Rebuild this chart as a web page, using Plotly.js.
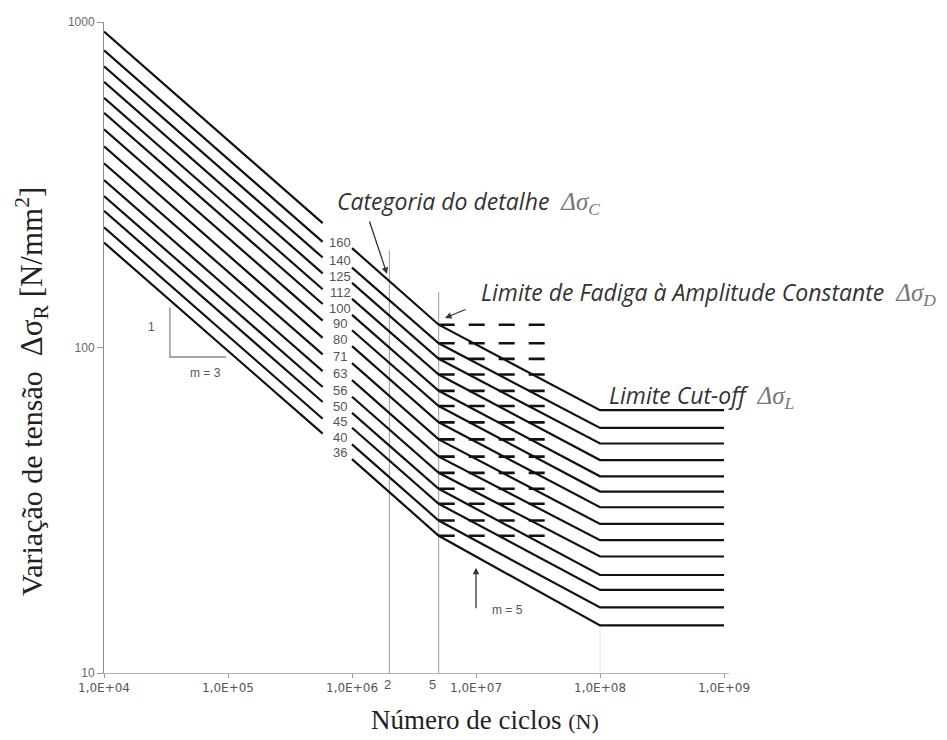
<!DOCTYPE html>
<html>
<head>
<meta charset="utf-8">
<script src="https://cdn.plot.ly/plotly-3.0.1.min.js"></script>
<style>
html,body{margin:0;padding:0;background:#fff;}
#chart{width:947px;height:740px;}
</style>
</head>
<body>
<div id="chart"></div>
<script>
// ---- Data ----
const categories     = [160, 140, 125, 112, 100, 90, 80, 71, 63, 56, 50, 45, 40, 36];
// stress range at N = 1e4 (start of m=3 branch)
const stressAt1e4    = [935, 819, 731, 655, 585, 526, 468, 415, 368, 327, 292, 263, 234, 210];
// stress where the left m=3 segment stops (label gap)
const stressGapStart = [241, 211, 189, 169, 151, 136, 121, 107, 95.2, 84.6, 75.6, 68.0, 60.4, 54.4];
// stress where the m=3 line resumes after the label gap
const stressGapEnd   = [202, 176, 158, 141, 126, 113, 101, 89.5, 79.4, 70.6, 63.0, 56.7, 50.4, 45.4];
// constant amplitude fatigue limit (N = 5e6)
const stressD        = [117.5, 103, 92.3, 82.6, 73.6, 66.1, 58.9, 52.2, 46.2, 41.2, 36.8, 33.1, 29.4, 26.4];
// cut-off limit (N = 1e8 .. 1e9)
const stressL        = [64.2, 56.6, 50.7, 45.1, 40.2, 36.1, 32.3, 28.7, 25.6, 22.8, 20.0, 18.0, 15.9, 14.0];

// cycle counts of the break points
const nStart = 1e4, nGapStart = 5.8e5, nGapEnd = 1e6, nKnee = 5e6, nDashEnd = 3.8e7, nCut = 1e8, nEnd = 1e9;

// reference verticals
const refCycles    = [2e6, 5e6];
const refTopStress = [199, 148];
const refLabels    = ['2', '5'];

// slope triangle (m = 3)
const triCycles = [3.4e4, 3.4e4, 9.63e4];
const triStress = [133, 93.5, 93.5];

// axis ticks
const xTickVals  = [1e4, 1e5, 1e6, 1e7, 1e8, 1e9];
const xTickText  = ['1,0E+04', '1,0E+05', '1,0E+06', '1,0E+07', '1,0E+08', '1,0E+09'];
const yTickVals  = [10, 100, 1000];
const yTickText  = ['10', '100', '1000'];

// ---- Traces ----
const traces = [];
const lineStyle = {color: '#111', width: 2.2};

// faint vertical at cut-off point
traces.push({x: [nCut, nCut], y: [10, stressL[stressL.length - 1]], mode: 'lines',
  line: {color: '#e6e6e6', width: 1}, hoverinfo: 'skip', showlegend: false});

refCycles.forEach((n, i) => {
  traces.push({x: [n, n], y: [10, refTopStress[i]], mode: 'lines',
    line: {color: '#9a9a9a', width: 1}, hoverinfo: 'skip', showlegend: false});
});

traces.push({x: triCycles, y: triStress, mode: 'lines',
  line: {color: '#8a8a8a', width: 1.3}, hoverinfo: 'skip', showlegend: false});

categories.forEach((c, i) => {
  traces.push({x: [nStart, nGapStart], y: [stressAt1e4[i], stressGapStart[i]],
    mode: 'lines', line: lineStyle, name: String(c), showlegend: false});
  traces.push({x: [nGapEnd, nKnee, nCut, nEnd], y: [stressGapEnd[i], stressD[i], stressL[i], stressL[i]],
    mode: 'lines', line: lineStyle, name: String(c), showlegend: false});
  traces.push({x: [nKnee, nDashEnd], y: [stressD[i], stressD[i]],
    mode: 'lines', line: {color: '#111', width: 2.6, dash: '16px,14px'}, name: String(c), showlegend: false});
});

// ---- Annotations ----
const L = Math.log10;
const annotations = [];

categories.forEach((c) => {
  annotations.push({x: 5.905, y: L(c) + 0.12, xref: 'x', yref: 'y', text: String(c),
    showarrow: false, font: {family: 'Liberation Sans, Arial, sans-serif', size: 13, color: '#555'}});
});

const refLabelX = [6.29, 6.645];
refLabels.forEach((t, i) => {
  annotations.push({x: refLabelX[i], y: -0.018, xref: 'x', yref: 'paper', yanchor: 'middle', text: t,
    showarrow: false, font: {family: 'Liberation Sans, Arial, sans-serif', size: 13, color: '#555'}});
});

const itFont = {family: 'Open Sans, sans-serif', size: 23, color: '#333', style: 'italic'};
const grk = (s) => '<span style="color:#777;font-family:Liberation Serif,serif;font-size:25px"><i>Δσ</i><sub><i>' + s + '</i></sub></span>';

annotations.push({x: 5.863, y: 2.447, xref: 'x', yref: 'y', xanchor: 'left', yanchor: 'middle', showarrow: false,
  text: 'Categoria do detalhe  ' + grk('C'), font: itFont});
annotations.push({x: 7.024, y: 2.167, xref: 'x', yref: 'y', xanchor: 'left', yanchor: 'middle', showarrow: false,
  text: 'Limite de Fadiga à Amplitude Constante  ' + grk('D'), font: itFont});
annotations.push({x: 8.06, y: 1.851, xref: 'x', yref: 'y', xanchor: 'left', yanchor: 'middle', showarrow: false,
  text: 'Limite Cut-off  ' + grk('L'), font: itFont});

// arrows
const arrowBase = {xref: 'x', yref: 'y', text: '', showarrow: true, arrowhead: 2, arrowsize: 1,
  arrowwidth: 1.3, arrowcolor: '#333', standoff: 0};
annotations.push(Object.assign({}, arrowBase, {x: 6.282, y: 2.226, ax: -18, ay: -54}));
annotations.push(Object.assign({}, arrowBase, {x: 6.750, y: 2.091, ax: 22, ay: -9}));
annotations.push(Object.assign({}, arrowBase, {x: 7.000, y: 1.323, ax: 0, ay: 42}));

const smallFont = {family: 'Liberation Sans, Arial, sans-serif', size: 12, color: '#555'};
annotations.push({x: 4.379, y: 2.063, xref: 'x', yref: 'y', text: '1', showarrow: false, font: smallFont});
annotations.push({x: 4.815, y: 1.922, xref: 'x', yref: 'y', text: 'm = 3', showarrow: false, font: smallFont});
annotations.push({x: 7.25, y: 1.194, xref: 'x', yref: 'y', text: 'm = 5', showarrow: false, font: smallFont});

// axis titles
annotations.push({x: -0.1152, y: 0.433, xref: 'paper', yref: 'paper', xanchor: 'center', yanchor: 'middle',
  textangle: -90, showarrow: false,
  text: 'Variação de tensão  <span style="font-size:31px">Δσ<sub>R</sub> [N/mm<sup>2</sup>]</span>',
  font: {family: 'Liberation Serif, Times New Roman, serif', size: 30, color: '#222'}});
annotations.push({x: 0.6096, y: -0.0722, xref: 'paper', yref: 'paper', xanchor: 'center', yanchor: 'middle',
  showarrow: false,
  text: 'Número de ciclos <span style="font-size:22px">(N)</span>',
  font: {family: 'Liberation Serif, Times New Roman, serif', size: 27, color: '#222'}});

const layout = {
  width: 947, height: 740,
  margin: {l: 104, r: 218, t: 22, b: 67, pad: 0},
  paper_bgcolor: '#fff', plot_bgcolor: '#fff',
  showlegend: false,
  xaxis: {type: 'log', range: [4, 9.04], showgrid: false, zeroline: false,
    showline: true, linecolor: '#b5b5b5', linewidth: 1,
    ticks: 'outside', ticklen: 4, tickcolor: '#999',
    tickmode: 'array', tickvals: xTickVals, ticktext: xTickText,
    tickfont: {family: 'DejaVu Sans, sans-serif', size: 12, color: '#555'}},
  yaxis: {type: 'log', range: [1, 3], showgrid: false, zeroline: false,
    showline: true, linecolor: '#8a8a8a', linewidth: 1,
    ticks: 'outside', ticklen: 6, tickcolor: '#999',
    tickmode: 'array', tickvals: yTickVals, ticktext: yTickText,
    tickfont: {family: 'Liberation Sans, Arial, sans-serif', size: 12, color: '#666'}},
  annotations: annotations
};

Plotly.newPlot('chart', traces, layout, {displayModeBar: false, staticPlot: true});
</script>
</body>
</html>
